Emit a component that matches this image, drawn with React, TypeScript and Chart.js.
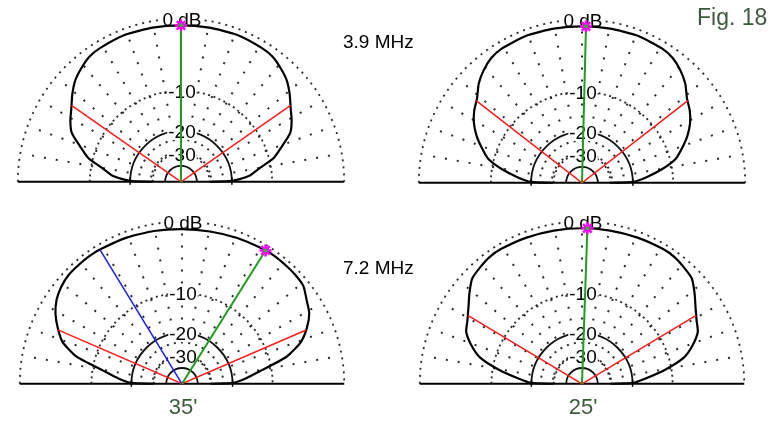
import React, { useEffect, useRef } from "react";
import { Chart, registerables } from "chart.js";
Chart.register(...registerables);

// Elevation angles (deg, 0 = right horizon, 180 = left horizon)
const ANGLES = [0, 1, 5, 10, 15, 20, 25, 30, 35, 40, 45, 50, 55, 60, 70, 80, 90, 100, 110, 120, 125, 130, 135, 140, 145, 150, 155, 160, 165, 170, 175, 179, 180];

// Relative gain (dB)
const GAIN_39_TL = [-30, -20, -15, -12.4, -9.1, -7.2, -5.2, -4.2, -3.4, -2.4, -1.5, -0.9, -0.4, -0.2, 0, 0, 0, 0, 0, -0.2, -0.4, -0.9, -1.5, -2.4, -3.4, -4.2, -5.2, -7.2, -9.1, -12.4, -15, -20, -30];
const GAIN_39_TR = [-30, -20, -16, -12, -8.9, -7.3, -5.8, -4.6, -3.7, -3.0, -1.9, -1.1, -0.5, -0.2, 0, 0, 0, 0, 0, -0.2, -0.5, -1.1, -1.9, -3.0, -3.7, -4.6, -5.8, -7.3, -8.9, -12, -16, -20, -30];
const GAIN_72_BL = [-30, -20, -16, -12, -7, -4.3, -2.8, -1.7, -1.1, -0.4, -0.2, -0.1, 0, 0, -0.05, -0.1, -0.1, -0.05, 0, 0, 0, -0.1, -0.2, -0.5, -1.0, -1.8, -2.9, -4.2, -6.8, -12, -16, -20, -30];
const GAIN_72_BR = [-30, -20, -16, -11.2, -7.4, -5.5, -4.1, -3.5, -2.7, -1.7, -0.75, -0.4, -0.1, 0, 0, 0, 0, 0, 0, 0, -0.1, -0.4, -0.75, -1.7, -2.7, -3.5, -4.1, -5.5, -7.4, -11.2, -16, -20, -30];

// Half-power (red) markers: [angle, dB]
const RED_TL = [[36, -3.2], [144, -3.2]];
const RED_TR = [[39, -3.1], [141, -3.1]];
const RED_BL = [[24.3, -3.0], [155.6, -3.0]];
const RED_BR = [[32, -3.2], [148, -3.2]];

// Max-gain (green) direction and secondary (blue) direction: [angle, dB]
const MAX_TL = [90, 0];
const MAX_TR = [88.6, 0];
const MAX_BL = [59, 0];
const MAX_BR = [88.1, 0];
const BLUE_BL = [120.4, 0];

// Grid levels
const GRID_LABELS = ["0 dB", "-10", "-20", "-30"];
const GRID_LABEL_DB = [0, -10, -20, -30];
const RADIAL_STEP_DEG = 10;

const FONT = "'Liberation Sans', Arial, sans-serif";

// ARRL log scale: radius factor 0.89 per 2 dB
const rOf = (db: number) => Math.pow(0.89, -db / 2);
const toXY = (a: number, db: number) => {
  const r = rOf(db);
  const t = (a * Math.PI) / 180;
  return { x: r * Math.cos(t), y: r * Math.sin(t) };
};

const W = 372;
const H = 200;

const gridPlugin = {
  id: "polarGrid",
  beforeDatasetsDraw(chart: any) {
    const { ctx, scales } = chart;
    const xs = scales.x;
    const ys = scales.y;
    const cx = xs.getPixelForValue(0);
    const cy = ys.getPixelForValue(0);
    const rp = (db: number) => xs.getPixelForValue(rOf(db)) - cx;
    const R = rp(0);
    ctx.save();
    // radial dotted lines
    ctx.strokeStyle = "#2a2a2a";
    ctx.lineWidth = 2;
    ctx.setLineDash([2, 10]);
    for (let a = RADIAL_STEP_DEG; a < 180; a += RADIAL_STEP_DEG) {
      const t = (a * Math.PI) / 180;
      ctx.beginPath();
      ctx.moveTo(cx + (R - 12) * Math.cos(t), cy - (R - 12) * Math.sin(t));
      ctx.lineTo(cx + rp(-30) * Math.cos(t), cy - rp(-30) * Math.sin(t));
      ctx.stroke();
    }
    // dotted circles
    const dotted = (db: number, gap: number) => {
      ctx.setLineDash([2, gap]);
      ctx.beginPath();
      ctx.arc(cx, cy, rp(db), Math.PI, 2 * Math.PI);
      ctx.stroke();
    };
    ctx.lineWidth = 1.8;
    dotted(0, 5);
    dotted(-10, 3.5);
    dotted(-30, 3.5);
    // solid circles
    ctx.setLineDash([]);
    ctx.lineWidth = 1.8;
    ctx.strokeStyle = "#111";
    for (const db of [-20, -40]) {
      ctx.beginPath();
      ctx.arc(cx, cy, rp(db), Math.PI, 2 * Math.PI);
      ctx.stroke();
    }
    // baseline
    ctx.strokeStyle = "#000";
    ctx.lineWidth = 2;
    ctx.beginPath();
    ctx.moveTo(cx - R, cy);
    ctx.lineTo(cx + R, cy);
    ctx.stroke();
    // ticks at -20 dB ring ends
    ctx.lineWidth = 1.5;
    for (const s of [-1, 1]) {
      ctx.beginPath();
      ctx.moveTo(cx + s * rp(-20), cy - 4);
      ctx.lineTo(cx + s * rp(-20), cy + 3);
      ctx.stroke();
    }
    // labels
    ctx.font = `19px ${FONT}`;
    ctx.textAlign = "center";
    ctx.textBaseline = "middle";
    GRID_LABELS.forEach((lab, i) => {
      const y = cy - rp(GRID_LABEL_DB[i]) + 1;
      const w = ctx.measureText(lab).width;
      ctx.fillStyle = "#fff";
      ctx.fillRect(cx + 1 - w / 2 - 1, y - 8, w + 2, 16);
      ctx.fillStyle = "#000";
      ctx.fillText(lab, cx + 1, y + 1);
    });
    ctx.restore();
  },
};

type PlotCfg = {
  cx: number;
  cy: number;
  R: number;
  gains: number[];
  red: number[][];
  max: number[];
  blue?: number[];
};

function PolarPlot({ cfg }: { cfg: PlotCfg }) {
  const ref = useRef<HTMLCanvasElement>(null);
  useEffect(() => {
    const { R } = cfg;
    const origin = { x: 0, y: 0 };
    const datasets: any[] = [
      {
        data: [toXY(cfg.max[0], cfg.max[1])],
        showLine: false,
        pointStyle: "star",
        pointRadius: 6,
        borderColor: "#ff00ff",
        backgroundColor: "#ff00ff",
        borderWidth: 2.5,
        order: 0,
      },
      {
        data: [toXY(cfg.max[0], cfg.max[1])],
        showLine: false,
        pointStyle: "circle",
        pointRadius: 2,
        borderWidth: 0,
        backgroundColor: "#22bb22",
        order: -1,
      },
      {
        data: [origin, toXY(cfg.max[0], cfg.max[1])],
        showLine: true,
        borderColor: "#1e9e1e",
        borderWidth: 2,
        pointRadius: 0,
        order: 1,
      },
      {
        data: [toXY(cfg.red[0][0], cfg.red[0][1]), origin, toXY(cfg.red[1][0], cfg.red[1][1])],
        showLine: true,
        borderColor: "#ff1a1a",
        borderWidth: 1.5,
        pointRadius: 0,
        order: 3,
      },
      {
        data: ANGLES.map((a, i) => toXY(a, cfg.gains[i])),
        showLine: true,
        borderColor: "#000",
        borderWidth: 2.2,
        pointRadius: 0,
        tension: 0.2,
        order: 4,
      },
    ];
    if (cfg.blue) {
      datasets.push({
        data: [origin, toXY(cfg.blue[0], cfg.blue[1])],
        showLine: true,
        borderColor: "#1a1aff",
        borderWidth: 1.5,
        pointRadius: 0,
        order: 2,
      });
    }
    const chart = new Chart(ref.current as HTMLCanvasElement, {
      type: "scatter",
      data: { datasets },
      options: {
        animation: false,
        responsive: false,
        maintainAspectRatio: false,
        layout: { padding: 0 },
        plugins: { legend: { display: false }, tooltip: { enabled: false } },
        scales: {
          x: { type: "linear", display: false, min: -(W / 2) / R, max: W / 2 / R },
          y: { type: "linear", display: false, min: -(H - 185) / R, max: 185 / R },
        },
        elements: { line: { fill: false } },
      },
      plugins: [gridPlugin],
    });
    return () => chart.destroy();
  }, []);
  return (
    <canvas
      ref={ref}
      width={W}
      height={H}
      style={{ position: "absolute", left: cfg.cx - W / 2, top: cfg.cy - 185, width: W, height: H }}
    />
  );
}

const PLOTS: PlotCfg[] = [
  { cx: 181, cy: 189, R: 171, gains: GAIN_39_TL, red: RED_TL, max: MAX_TL },
  { cx: 582, cy: 190, R: 171, gains: GAIN_39_TR, red: RED_TR, max: MAX_TR },
  { cx: 182, cy: 391, R: 170, gains: GAIN_72_BL, red: RED_BL, max: MAX_BL, blue: BLUE_BL },
  { cx: 582, cy: 391, R: 170, gains: GAIN_72_BR, red: RED_BR, max: MAX_BR },
];

const txt = (left: number, top: number, size: number, color: string, s: string, center = false) => (
  <div
    style={{
      position: "absolute",
      left: center ? left - 40 : left,
      width: center ? 80 : undefined,
      textAlign: center ? "center" : "left",
      top,
      fontFamily: FONT,
      fontSize: size,
      lineHeight: `${size}px`,
      color,
      whiteSpace: "nowrap",
    }}
  >
    {s}
  </div>
);

export default function App() {
  return (
    <div
      style={{
        position: "fixed",
        left: 0,
        top: 0,
        width: 772,
        height: 423,
        background: "#fff",
        overflow: "hidden",
      }}
    >
      {PLOTS.map((p, i) => (
        <PolarPlot key={i} cfg={p} />
      ))}
      {txt(343, 32, 19, "#000", "3.9 MHz")}
      {txt(343, 258, 19, "#000", "7.2 MHz")}
      {txt(697, 6, 23, "#3e5a3e", "Fig. 18")}
      {txt(183, 396, 22, "#3e5a3e", "35'", true)}
      {txt(583, 396, 22, "#3e5a3e", "25'", true)}
    </div>
  );
}
